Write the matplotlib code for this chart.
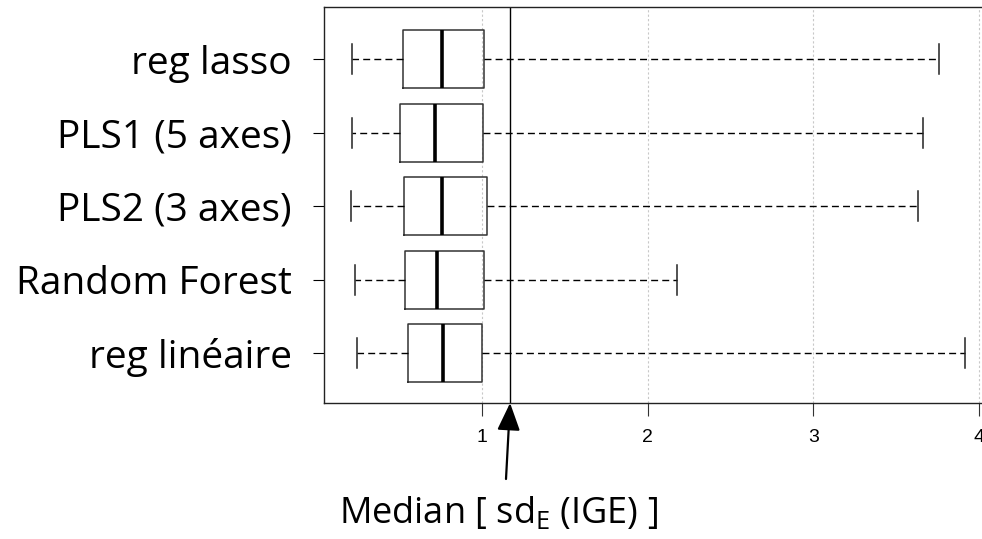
import matplotlib
matplotlib.use("Agg")
import matplotlib.pyplot as plt

# methods, bottom to top as drawn
methods = ["reg linéaire", "Random Forest", "PLS2 (3 axes)", "PLS1 (5 axes)", "reg lasso"]
whis_low = [0.247, 0.232, 0.208, 0.215, 0.215]
q1 = [0.552, 0.537, 0.528, 0.505, 0.520]
med = [0.763, 0.730, 0.755, 0.717, 0.757]
q3 = [0.998, 1.014, 1.030, 1.004, 1.012]
whis_high = [3.916, 2.177, 3.632, 3.662, 3.759]

median_sd_ige = 1.169
xticks = [1, 2, 3, 4]

plt.rcParams["font.family"] = ["Open Sans", "DejaVu Sans"]
plt.rcParams["mathtext.fontset"] = "custom"
plt.rcParams["mathtext.rm"] = "Open Sans"

fig = plt.figure(figsize=(9.82, 5.39), dpi=100)
ax = fig.add_axes([0.33, 0.2523, 0.67, 0.7347])

stats = []
for i in range(len(methods)):
    stats.append({"label": methods[i], "whislo": whis_low[i], "q1": q1[i], "med": med[i],
                  "q3": q3[i], "whishi": whis_high[i], "fliers": []})

ax.bxp(stats, positions=range(1, len(methods) + 1), vert=False, widths=0.79, capwidths=0.41,
       showfliers=False,
       boxprops=dict(color="#333333", linewidth=1.1),
       medianprops=dict(color="black", linewidth=2.6, solid_capstyle="butt"),
       whiskerprops=dict(color="black", linewidth=1.0, linestyle=(0, (5, 3))),
       capprops=dict(color="#222222", linewidth=1.1))

ax.axvline(median_sd_ige, color="black", linewidth=1.0)

ax.set_xlim(0.046, 4.018)
ax.set_ylim(0.32, 5.71)
ax.set_xticks(xticks)
ax.set_xticklabels([str(t) for t in xticks], fontfamily="Liberation Sans", fontsize=14)
ax.grid(axis="x", color="#c8c8c8", linestyle=(0, (2, 2)), linewidth=0.8)
ax.set_axisbelow(True)
ax.tick_params(axis="x", length=9, width=0.8, color="#333333", pad=10)
ax.tick_params(axis="y", length=8, width=0.8, labelsize=28, pad=15)
ax.spines["right"].set_visible(False)
for s in ["left", "top", "bottom"]:
    ax.spines[s].set_linewidth(1.0)
    ax.spines[s].set_color("#222222")

ax.annotate("", xy=(median_sd_ige, 0.32), xycoords="data",
            xytext=(506 / 982, 1 - 479 / 539), textcoords="figure fraction",
            arrowprops=dict(arrowstyle="-|>,head_length=1.2,head_width=0.5", color="black",
                            linewidth=1.6, shrinkA=0, shrinkB=0, mutation_scale=14))
fig.text(498 / 982, 1 - 523 / 539, r"Median [ sd$_\mathregular{E}$ (IGE) ]",
         fontsize=26, ha="center", va="baseline")

fig.savefig("out.png", dpi=100)
